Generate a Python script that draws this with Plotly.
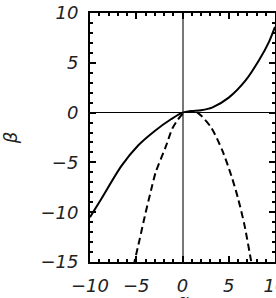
import plotly.graph_objects as go

# Solid curve
solid_x = [-10, -8.8, -6.6, -4.8, -3.0, -1.25, 0, 1.0, 2.0, 3.2, 5.0, 6.8, 8.3, 9.35, 10]
solid_y = [-10.5, -8.7, -5.35, -3.3, -1.84, -0.67, 0, 0.15, 0.24, 0.5, 1.5, 3.2, 5.3, 7.1, 8.6]

# Dashed curve
dash_x = [-5.3, -4.65, -4.1, -3.4, -2.9, -1.8, -1.1, -0.5, 0, 0.5, 1.0, 1.5, 2.0, 3.1, 4.3, 5.3, 6.0, 6.7, 7.4, 7.5]
dash_y = [-15.4, -12.8, -10.5, -7.8, -6.0, -3.4, -1.6, -0.7, -0.15, 0.05, 0.1, 0.05, -0.3, -1.5, -3.8, -6.4, -8.6, -11.3, -14.8, -15.3]

x_ticks = [-10, -5, 0, 5, 10]
y_ticks = [-15, -10, -5, 0, 5, 10]

x_title = "α"
y_title = "β"

font_family = "DejaVu Sans"

fig = go.Figure()
fig.add_trace(go.Scatter(x=solid_x, y=solid_y, mode="lines",
                         line=dict(color="black", width=2, shape="spline", smoothing=0.8),
                         showlegend=False))
fig.add_trace(go.Scatter(x=dash_x, y=dash_y, mode="lines",
                         line=dict(color="black", width=2, dash="7px,4px", shape="spline", smoothing=0.8),
                         showlegend=False))

axis_common = dict(
    showgrid=False,
    showline=True, linecolor="black", linewidth=2,
    mirror="ticks",
    ticks="inside", ticklen=6, tickwidth=1.5, tickcolor="black",
    minor=dict(ticks="inside", ticklen=3, tickwidth=1.5, tickcolor="black", dtick=1),
    tickfont=dict(family=font_family, size=18, color="#222", style="italic"),
    ticklabeloverflow="allow",
)

def lab(v):
    return ("\u2212" + str(abs(v))) if v < 0 else str(v)

fig.update_xaxes(**axis_common, range=[-10, 10], tickvals=x_ticks,
                 ticktext=[lab(v) for v in x_ticks],
                 zeroline=True, zerolinecolor="#777", zerolinewidth=1.5,
                 ticklabelstandoff=6)
fig.update_yaxes(**axis_common, range=[-15, 10], tickvals=y_ticks,
                 ticktext=[lab(v) for v in y_ticks],
                 zeroline=True, zerolinecolor="black", zerolinewidth=1.2,
                 ticklabelstandoff=6,
                 title=dict(text=y_title, font=dict(family=font_family, size=18, color="#222", style="italic"), standoff=40))

# x-axis title sits below the tick labels and is mostly cut off by the frame edge
fig.add_annotation(text=x_title, xref="x", yref="paper", x=0, y=-0.105,
                   xanchor="center", yanchor="top", showarrow=False,
                   font=dict(family=font_family, size=18, color="#222", style="italic"))

fig.update_layout(
    width=276, height=298,
    margin=dict(l=90, r=1, t=13, b=36, autoexpand=False),
    paper_bgcolor="white", plot_bgcolor="white",
)

fig.write_html("out.html")
